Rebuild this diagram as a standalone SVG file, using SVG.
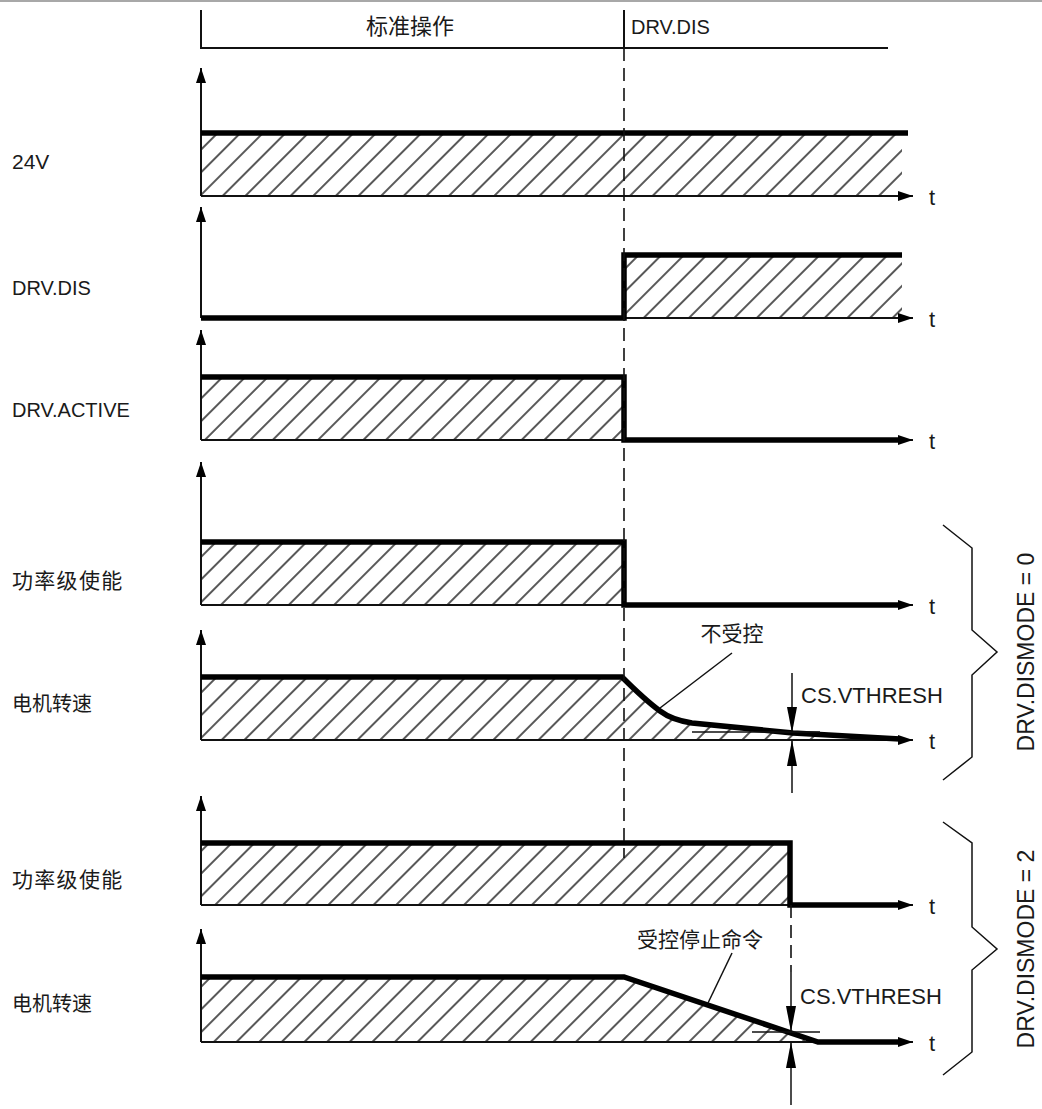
<svg xmlns="http://www.w3.org/2000/svg" width="1042" height="1109" viewBox="0 0 1042 1109">
<style>
.lat{font-family:"Liberation Sans",Arial,sans-serif;font-size:20px;fill:#1a1a1a}
.cjk{font-family:"Noto Sans CJK SC","Noto Sans CJK JP",sans-serif;font-size:21px;fill:#1a1a1a}
.wide{letter-spacing:1.3px}
.tl{font-family:"Liberation Sans",Arial,sans-serif;font-size:22px;fill:#1a1a1a}
.vt{font-family:"Liberation Sans",Arial,sans-serif;font-size:22px;fill:#1a1a1a}
.md{font-family:"Liberation Sans",Arial,sans-serif;font-size:23px;fill:#1a1a1a}
.ax{stroke:#111;stroke-width:2;fill:none}
.axy{stroke:#111;stroke-width:2;fill:none;marker-end:url(#arr)}
.sig{stroke:#000;stroke-width:5.5;fill:none;stroke-linejoin:miter;stroke-linecap:butt}
.thin{stroke:#111;stroke-width:1.5;fill:none}
.dash{stroke:#111;stroke-width:1.6;fill:none;stroke-dasharray:13 7}
.hat{fill:url(#hatch);stroke:none}
.dim{stroke:#111;stroke-width:1.5;fill:none}
</style>
<defs>
<pattern id="hatch" patternUnits="userSpaceOnUse" width="16" height="16" patternTransform="rotate(45)">
<line x1="8" y1="-1" x2="8" y2="17" stroke="#111" stroke-width="1.4"/>
</pattern>
<marker id="arr" markerUnits="userSpaceOnUse" markerWidth="15" markerHeight="10" refX="15" refY="5" orient="auto">
<path d="M0,0 L15,5 L0,10 Z" fill="#000"/>
</marker>
<marker id="dimarr" markerUnits="userSpaceOnUse" markerWidth="26" markerHeight="10" refX="26" refY="5" orient="auto">
<path d="M0,0 L26,5 L0,10 Z" fill="#000"/>
</marker>
</defs>
<rect x="0" y="0" width="1042" height="1109" fill="#fff"/>
<line x1="0" y1="1" x2="1042" y2="1" stroke="#a8a8a8" stroke-width="2"/>

<g id="header">
<polyline class="ax" points="201,10 201,48 888,48"/>
<line class="ax" x1="624" y1="10" x2="624" y2="48"/>
<text class="cjk" x="410" y="34" text-anchor="middle" style="font-size:22px">标准操作</text>
<text class="lat" x="631" y="34">DRV.DIS</text>
</g>

<g id="chart-24v">
<rect class="hat" x="201" y="133" width="701" height="63"/>
<line class="axy" x1="201" y1="196" x2="201" y2="68"/>
<line class="axy" x1="201" y1="196" x2="913" y2="196"/>
<line class="sig" x1="201" y1="133" x2="908" y2="133"/>
<text class="lat" x="12" y="169" style="font-size:21px">24V</text>
<text class="tl" x="929" y="205">t</text>
</g>

<g id="chart-drvdis">
<rect class="hat" x="624" y="255" width="278" height="63"/>
<line class="axy" x1="201" y1="318" x2="201" y2="207"/>
<line class="axy" x1="201" y1="318" x2="913" y2="318"/>
<polyline class="sig" points="201,318 624,318 624,255 902,255"/>
<text class="lat" x="12" y="295">DRV.DIS</text>
<text class="tl" x="929" y="327">t</text>
</g>

<g id="chart-drvactive">
<rect class="hat" x="201" y="377" width="423" height="63"/>
<line class="axy" x1="201" y1="440" x2="201" y2="330"/>
<line class="axy" x1="201" y1="440" x2="913" y2="440"/>
<polyline class="sig" points="201,377 624,377 624,440 900,440"/>
<text class="lat" x="12" y="417">DRV.ACTIVE</text>
<text class="tl" x="929" y="449">t</text>
</g>

<g id="chart-power1">
<rect class="hat" x="201" y="542" width="423" height="63"/>
<line class="axy" x1="201" y1="605" x2="201" y2="462"/>
<line class="axy" x1="201" y1="605" x2="913" y2="605"/>
<polyline class="sig" points="201,542 624,542 624,605 900,605"/>
<text class="cjk wide" x="12" y="588">功率级使能</text>
<text class="tl" x="929" y="614">t</text>
</g>

<g id="chart-speed1">
<path class="hat" d="M201,677 L622,677 Q645,700 660,711 Q672,720 692,723 L793,733 L820,735 L820,740 L201,740 Z"/>
<line class="axy" x1="201" y1="740" x2="201" y2="630"/>
<line class="axy" x1="201" y1="740" x2="913" y2="740"/>
<path class="sig" d="M201,677 L622,677 Q645,700 660,711 Q672,720 692,723 L793,733 L900,739"/>
<line class="thin" x1="692" y1="732" x2="820" y2="732"/>
<text class="cjk" x="12" y="711" style="font-size:20px">电机转速</text>
<text class="tl" x="929" y="749">t</text>
<text class="cjk" x="732" y="641" text-anchor="middle">不受控</text>
<text class="vt" x="801" y="703">CS.VTHRESH</text>
</g>

<g id="chart-power2">
<rect class="hat" x="201" y="843" width="589" height="62"/>
<line class="axy" x1="201" y1="905" x2="201" y2="796"/>
<line class="axy" x1="201" y1="905" x2="913" y2="905"/>
<polyline class="sig" points="201,843 790,843 790,905 900,905"/>
<text class="cjk wide" x="12" y="887">功率级使能</text>
<text class="tl" x="929" y="914">t</text>
</g>

<g id="chart-speed2">
<path class="hat" d="M201,977 L624,977 L818,1042 L201,1042 Z"/>
<line class="axy" x1="201" y1="1042" x2="201" y2="929"/>
<line class="axy" x1="201" y1="1042" x2="913" y2="1042"/>
<polyline class="sig" points="201,977 624,977 818,1042 900,1042"/>
<line class="thin" x1="752" y1="1032" x2="820" y2="1032"/>
<text class="cjk" x="12" y="1011" style="font-size:20px">电机转速</text>
<text class="tl" x="929" y="1051">t</text>
<text class="cjk" x="700" y="947" text-anchor="middle">受控停止命令</text>
<text class="vt" x="800" y="1004">CS.VTHRESH</text>
</g>

<g id="group-mode0">
<polyline class="dim" points="943,525 972,548 972,630 997,652 972,675 972,757 943,780"/>
<text class="md" transform="translate(1034,652) rotate(-90)" text-anchor="middle">DRV.DISMODE = 0</text>
</g>
<g id="group-mode2">
<polyline class="dim" points="943,822 972,843 972,927 997,949 972,970 972,1052 943,1075"/>
<text class="md" transform="translate(1034,949) rotate(-90)" text-anchor="middle">DRV.DISMODE = 2</text>
</g>

<g id="connectors">
<line class="dash" x1="624" y1="48" x2="624" y2="858"/>
<line class="dash" x1="791" y1="905" x2="791" y2="972"/>
<line class="thin" x1="732" y1="653" x2="660" y2="708"/>
<line class="thin" x1="732" y1="953" x2="708" y2="1003"/>
<line class="dim" x1="792" y1="673" x2="792" y2="733" style="marker-end:url(#dimarr)"/>
<line class="dim" x1="792" y1="793" x2="792" y2="740" style="marker-end:url(#dimarr)"/>
<line class="dim" x1="791" y1="972" x2="791" y2="1032" style="marker-end:url(#dimarr)"/>
<line class="dim" x1="791" y1="1105" x2="791" y2="1042" style="marker-end:url(#dimarr)"/>
</g>
</svg>
